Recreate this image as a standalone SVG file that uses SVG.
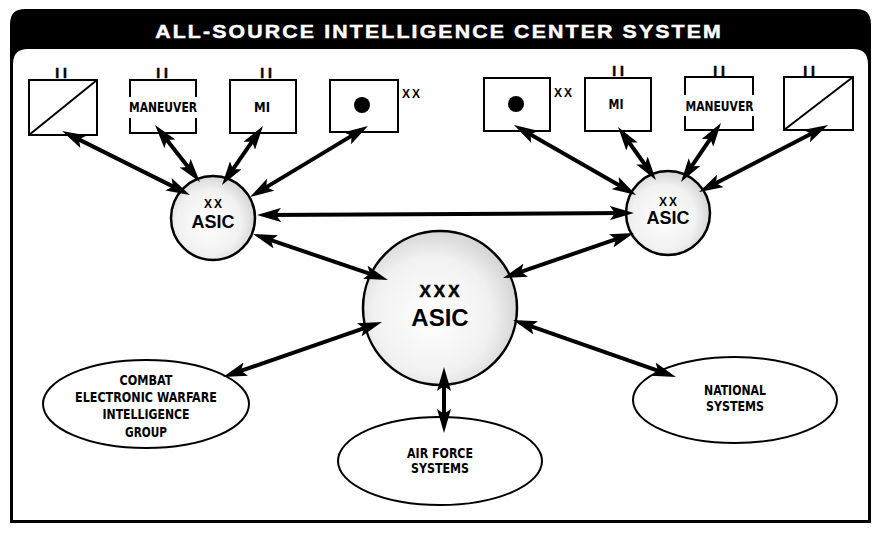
<svg xmlns="http://www.w3.org/2000/svg" width="876" height="534" viewBox="0 0 876 534">
<style>
.box{fill:#fff;stroke:#000;stroke-width:2}
.side{stroke:#000;stroke-width:2;fill:none}
.circ{fill:url(#stip);stroke:#000;stroke-width:2.5}
.ell{fill:#fff;stroke:#000;stroke-width:2}
.arr{stroke:#000;stroke-width:4;fill:none;marker-start:url(#ah);marker-end:url(#ah)}
.t{font-family:"Liberation Sans",Arial,sans-serif;font-weight:bold;text-anchor:middle;fill:#000}
.c{font-family:"Liberation Sans Narrow","DejaVu Sans Condensed","Liberation Sans",sans-serif;font-weight:bold;text-anchor:middle;fill:#000;font-size:14px}
.mark{font-family:"Liberation Sans",Arial,sans-serif;font-weight:bold;text-anchor:middle;font-size:14px;fill:#000;stroke:#000;stroke-width:0.5}
.xx{font-family:"Liberation Sans",Arial,sans-serif;font-weight:bold;text-anchor:middle;font-size:12px;fill:#000;letter-spacing:2px}
</style>
<defs>
<radialGradient id="stip" cx="0.45" cy="0.55" r="0.55">
<stop offset="0" stop-color="#ffffff"/>
<stop offset="0.7" stop-color="#f1f1f1"/>
<stop offset="1" stop-color="#d6d6d6"/>
</radialGradient>
<marker id="ah" viewBox="0 0 24 14" refX="16" refY="7" markerWidth="24" markerHeight="14" markerUnits="userSpaceOnUse" orient="auto-start-reverse">
<path d="M0,0 L24,7 L0,14 L5,7 Z" fill="#000"/>
</marker>
</defs>

<g id="frame">
<path d="M10,523 L10,24 Q10,9 25,9 L856,9 Q871,9 871,24 L871,523 Z" fill="#000"/>
<path d="M13,520 L13,64 Q13,49 28,49 L853,49 Q868,49 868,64 L868,520 Z" fill="#fff"/>
<text transform="translate(438,38) scale(1.12,1)" x="0" y="0" font-family="Liberation Sans, Arial, sans-serif" font-weight="bold" font-size="19" text-anchor="middle" fill="#fff" stroke="#fff" stroke-width="0.5" textLength="505" lengthAdjust="spacing">ALL-SOURCE INTELLIGENCE CENTER SYSTEM</text>
</g>

<g id="box-l1">
<rect class="box" x="29" y="80" width="68" height="55"/>
<line class="side" x1="29" y1="135" x2="97" y2="80"/>
<text class="mark" x="61" y="78">I I</text>
</g>
<g id="box-l2">
<path class="side" d="M130,97 L130,80 L196,80 L196,97 M130,118 L130,133 L196,133 L196,118"/>
<text class="c" x="163" y="112" textLength="68" lengthAdjust="spacingAndGlyphs">MANEUVER</text>
<text class="mark" x="162" y="78">I I</text>
</g>
<g id="box-l3">
<rect class="box" x="230" y="80" width="66" height="53"/>
<text class="c" x="262" y="112" textLength="16" lengthAdjust="spacingAndGlyphs">MI</text>
<text class="mark" x="266" y="78">I I</text>
</g>
<g id="box-l4">
<rect class="box" x="330" y="80" width="68" height="52"/>
<circle cx="362" cy="105" r="8" fill="#000"/>
<text class="xx" x="412" y="98">XX</text>
</g>

<g id="box-r1">
<rect class="box" x="484" y="78" width="66" height="53"/>
<circle cx="516" cy="104" r="8" fill="#000"/>
<text class="xx" x="564" y="97">XX</text>
</g>
<g id="box-r2">
<rect class="box" x="585" y="78" width="66" height="53"/>
<text class="c" x="616" y="109" textLength="15" lengthAdjust="spacingAndGlyphs">MI</text>
<text class="mark" x="618" y="76">I I</text>
</g>
<g id="box-r3">
<path class="side" d="M685,95 L685,77 L753,77 L753,95 M685,116 L685,130 L753,130 L753,116"/>
<text class="c" x="719.5" y="111" textLength="68" lengthAdjust="spacingAndGlyphs">MANEUVER</text>
<text class="mark" x="719" y="76">I I</text>
</g>
<g id="box-r4">
<rect class="box" x="784" y="77" width="69" height="53"/>
<line class="side" x1="784" y1="130" x2="853" y2="77"/>
<text class="mark" x="809" y="76">I I</text>
</g>

<g id="asic-left">
<circle class="circ" cx="213" cy="218" r="42"/>
<text class="xx" x="214" y="208">XX</text>
<text class="t" x="213" y="228" font-size="18">ASIC</text>
</g>
<g id="asic-right">
<circle class="circ" cx="668" cy="213" r="42"/>
<text class="xx" x="669" y="206">XX</text>
<text class="t" x="668" y="224" font-size="18">ASIC</text>
</g>
<g id="asic-center">
<circle class="circ" cx="440" cy="308" r="77"/>
<text class="t" x="441" y="297" font-size="17" letter-spacing="3" stroke="#000" stroke-width="0.5">XXX</text>
<text class="t" x="440" y="326" font-size="24">ASIC</text>
</g>

<g id="cewi">
<ellipse class="ell" cx="146" cy="404" rx="103" ry="44"/>
<text class="c" x="146" y="385" textLength="53" lengthAdjust="spacingAndGlyphs">COMBAT</text>
<text class="c" x="146" y="402" textLength="142" lengthAdjust="spacingAndGlyphs">ELECTRONIC WARFARE</text>
<text class="c" x="146" y="419" textLength="87" lengthAdjust="spacingAndGlyphs">INTELLIGENCE</text>
<text class="c" x="146" y="437" textLength="42" lengthAdjust="spacingAndGlyphs">GROUP</text>
</g>
<g id="air-force">
<ellipse class="ell" cx="440" cy="461" rx="102" ry="44"/>
<text class="c" x="440" y="458" textLength="66" lengthAdjust="spacingAndGlyphs">AIR FORCE</text>
<text class="c" x="440" y="473" textLength="58" lengthAdjust="spacingAndGlyphs">SYSTEMS</text>
</g>
<g id="national">
<ellipse class="ell" cx="735" cy="400" rx="102" ry="43"/>
<text class="c" x="735" y="395" textLength="62" lengthAdjust="spacingAndGlyphs">NATIONAL</text>
<text class="c" x="735" y="411" textLength="58" lengthAdjust="spacingAndGlyphs">SYSTEMS</text>
</g>

<g id="connectors">
<line class="arr" x1="69.2" y1="134.6" x2="182.8" y2="191.4"/>
<line class="arr" x1="160" y1="131.3" x2="195" y2="175.7"/>
<line class="arr" x1="258.4" y1="132.6" x2="226.6" y2="178.4"/>
<line class="arr" x1="361.1" y1="130.1" x2="256.9" y2="192.9"/>
<line class="arr" x1="265" y1="215" x2="626" y2="213"/>
<line class="arr" x1="260.6" y1="236.6" x2="380.4" y2="277.4"/>
<line class="arr" x1="374.4" y1="324.6" x2="230.6" y2="374.4"/>
<line class="arr" x1="444" y1="375" x2="444" y2="425"/>
<line class="arr" x1="510.6" y1="275.4" x2="626.4" y2="235.6"/>
<line class="arr" x1="520.6" y1="322.6" x2="668.4" y2="374.4"/>
<line class="arr" x1="520.9" y1="129" x2="629.1" y2="191"/>
<line class="arr" x1="622.7" y1="133.5" x2="651.3" y2="173.5"/>
<line class="arr" x1="716.5" y1="129.6" x2="685.5" y2="175.4"/>
<line class="arr" x1="820.9" y1="128.7" x2="706.1" y2="188.3"/>
</g>
</svg>
